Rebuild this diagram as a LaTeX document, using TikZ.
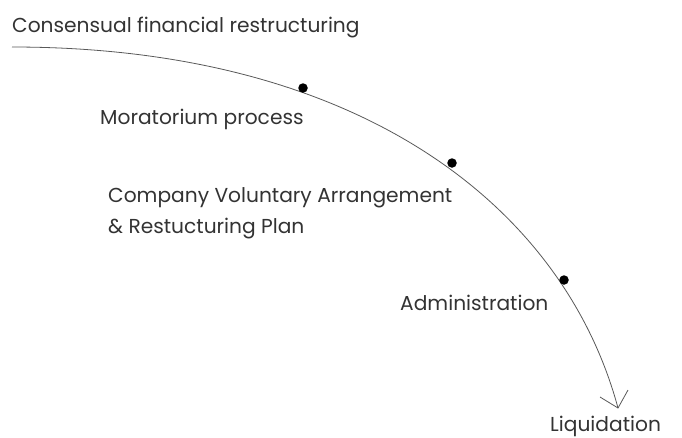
\documentclass[tikz,border=0pt]{standalone}
\usepackage{fontspec}
\setmainfont{Poppins}
\begin{document}
\begin{tikzpicture}[x=1pt,y=-1pt,
  label/.style={anchor=base west,inner sep=0pt,text=black!80,font=\fontsize{20.2}{24}\selectfont},
  stage/.style={circle,fill=black,inner sep=0pt,minimum size=9.5pt},
  flow/.style={draw=black!65,line width=0.8pt}]
\useasboundingbox (0,0) rectangle (682,437);
% curved path from consensual restructuring down to liquidation
\coordinate (start) at (12,47);
\coordinate (end) at (618,408);
\draw[flow] (start) .. controls (362,47) and (564,208) .. (end);
% open chevron head
\coordinate (armL) at (600,397);
\coordinate (armR) at (628,390);
\draw[flow] (armL) -- (end) -- (armR);
% stage markers on the path
\node[stage] (m1) at (303,88) {};
\node[stage] (m2) at (452,163) {};
\node[stage] (m3) at (564,280) {};
% labels
\node[label] (t0) at (12,32) {Consensual financial restructuring};
\node[label] (t1) at (100,124) {Moratorium process};
\node[label] (t2) at (108,202) {Company Voluntary Arrangement};
\node[label] (t3) at (108,233) {\& Restucturing Plan};
\node[label] (t4) at (400,310) {Administration};
\node[label] (t5) at (550,431) {Liquidation};
\end{tikzpicture}
\end{document}
